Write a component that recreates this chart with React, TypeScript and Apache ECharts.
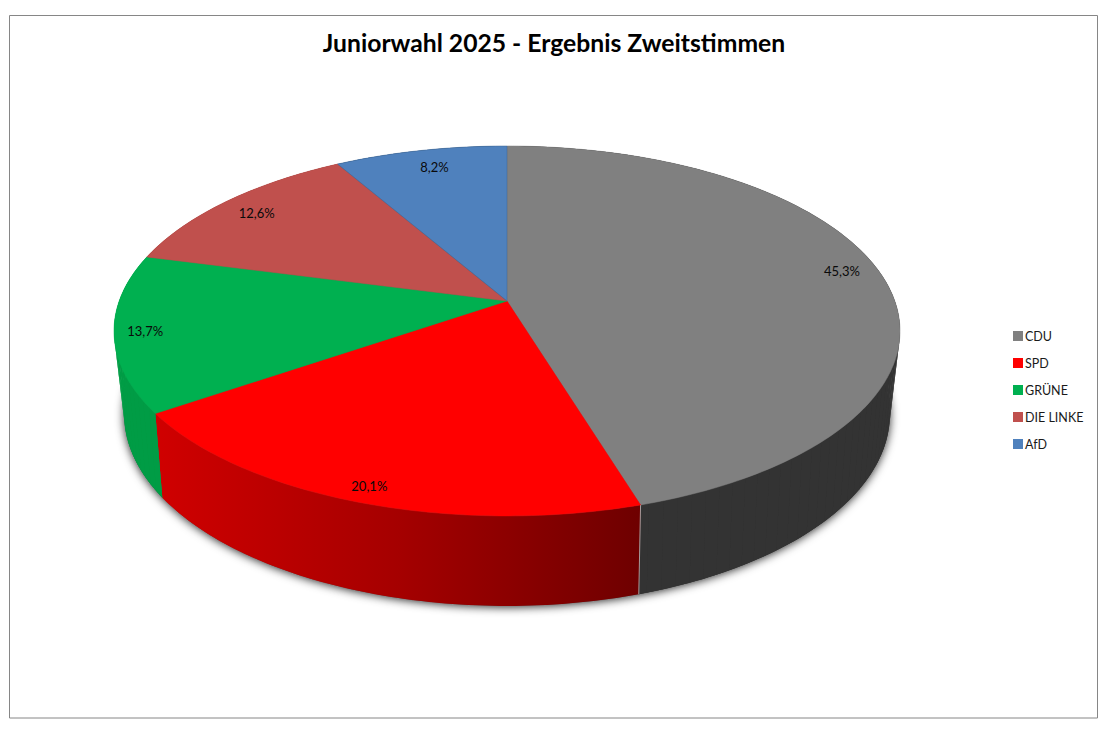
import React, { useEffect, useRef } from "react";
import * as echarts from "echarts";

const titleText = "Juniorwahl 2025 - Ergebnis Zweitstimmen";
const parties = ["CDU", "SPD", "GRÜNE", "DIE LINKE", "AfD"];
const shares = [45.3, 20.1, 13.7, 12.6, 8.2];

const topColors = ["#808080", "#ff0000", "#00b050", "#c0504d", "#4f81bd"];
const FONT = "Lato, Carlito, sans-serif";
const labelRadius = [0.9, 0.93, 0.93, 0.88, 0.87];
const labelNudge = [[-3, -7], [1, 1], [3, 0], [-1, 1], [5, -1]];

const topFace = { cy: 301, a: 180.1, b: 387.8, k: 0.162 };
const bottomFace = { cy: 380.5, a: 186, b: 377, k: 0.175 };
const CX = 507;

type Face = typeof topFace;
function project(deg: number, r: number, f: Face): number[] {
  const t = (deg * Math.PI) / 180;
  const u = r * Math.sin(t);
  const v = -r * Math.cos(t);
  const w = 1 - f.k * v;
  return [CX + (f.b * u) / w, f.cy + (f.a * v) / w];
}
function arc(a0: number, a1: number, f: Face): number[][] {
  const n = Math.max(2, Math.ceil(Math.abs(a1 - a0)));
  const pts: number[][] = [];
  for (let i = 0; i <= n; i++) pts.push(project(a0 + ((a1 - a0) * i) / n, 1, f));
  return pts;
}

function sideFill(i: number): any {
  if (i === 1)
    return new echarts.graphic.LinearGradient(0, 0, 1, 0, [
      { offset: 0, color: "#d00000" },
      { offset: 0.5, color: "#a50000" },
      { offset: 1, color: "#6e0000" },
    ]);
  return ["#333333", "", "#009c45", "#8f3d3a", "#3c6490"][i];
}

export default function App() {
  const ref = useRef<HTMLDivElement>(null);
  useEffect(() => {
    document.body.style.margin = "0";
    const chart = echarts.init(ref.current!, null, { renderer: "svg" });
    const cum: number[] = [];
    let acc = 0;
    shares.forEach((s) => {
      cum.push(acc);
      acc += s;
    });
    const startDeg = (i: number) => (cum[i] / 100) * 360;
    const endDeg = (i: number) => (i === shares.length - 1 ? 360 : ((cum[i] + shares[i]) / 100) * 360);

    const shadowSeries = {
      type: "custom",
      name: "shadow",
      coordinateSystem: "none",
      silent: true,
      z: 1,
      data: [[100]],
      renderItem: () => ({
        type: "polygon",
        shape: { points: arc(0, 360, bottomFace) },
        style: {
          fill: "#555",
          shadowBlur: 10,
          shadowOffsetX: 0,
          shadowOffsetY: 1,
          shadowColor: "rgba(0,0,0,0.85)",
        },
      }),
    };

    const sideSeries = parties.map((p, i) => ({
      type: "custom",
      name: p + " Seite",
      coordinateSystem: "none",
      silent: true,
      z: 2,
      data: [[shares[i]]],
      renderItem: () => {
        const a0 = startDeg(i);
        const a1 = endDeg(i);
        const children: any[] = [
          {
            type: "polygon",
            shape: { points: [...arc(a0, a1, topFace), ...arc(a1, a0, bottomFace)] },
            style: { fill: sideFill(i) },
          },
        ];
        // Strips along the rim fill the silhouette where the two faces' outlines cross.
        if (i !== 1) {
          const step = 2;
          for (let d = a0; d < a1; d += step) {
            const e = Math.min(a1, d + step);
            children.push({
              type: "polygon",
              shape: {
                points: [project(d, 1, topFace), project(e, 1, topFace), project(e, 1, bottomFace), project(d, 1, bottomFace)],
              },
              style: { fill: sideFill(i) },
            });
          }
        }
        if (i === 0) {
          children.push({
            type: "line",
            shape: {
              x1: project(a1, 1, topFace)[0],
              y1: project(a1, 1, topFace)[1],
              x2: project(a1, 1, bottomFace)[0],
              y2: project(a1, 1, bottomFace)[1],
            },
            style: { stroke: "#a89a9a", lineWidth: 1 },
            z2: 5,
          });
        }
        return { type: "group", children };
      },
    }));

    const topSeries = parties.map((p, i) => ({
      type: "custom",
      name: p,
      coordinateSystem: "none",
      silent: true,
      z: 3,
      itemStyle: { color: topColors[i] },
      data: [[shares[i]]],
      renderItem: () => ({
        type: "polygon",
        shape: { points: [project(0, 0, topFace), ...arc(startDeg(i), endDeg(i), topFace)] },
        style: {
          fill: topColors[i],
          stroke: i === 4 ? "#3f6795" : topColors[i],
          lineWidth: 0.5,
        },
      }),
    }));

    const labelSeries = {
      type: "custom",
      name: "labels",
      coordinateSystem: "none",
      silent: true,
      z: 4,
      data: shares.map((s) => [s]),
      renderItem: (params: any, api: any) => {
        const i = params.dataIndex;
        const mid = ((cum[i] + shares[i] / 2) / 100) * 360;
        const [x, y] = project(mid, labelRadius[i], topFace);
        const text = api.value(0).toFixed(1).replace(".", ",") + "%";
        return {
          type: "text",
          x: x + labelNudge[i][0],
          y: y + labelNudge[i][1],
          style: {
            text,
            fill: "#0a0a0a",
            font: `13px ${FONT}`,
            align: "center",
            verticalAlign: "middle",
          },
        };
      },
    };

    chart.setOption({
      animation: false,
      backgroundColor: "#ffffff",
      title: {
        text: titleText,
        left: "center",
        top: 25,
        textStyle: { fontFamily: FONT, fontSize: 24.7, fontWeight: "bold", color: "#000" },
      },
      legend: {
        data: parties,
        orient: "vertical",
        left: 1013,
        top: 328,
        itemWidth: 10,
        itemHeight: 10,
        itemGap: 11,
        icon: "rect",
        selectedMode: false,
        padding: 0,
        textStyle: { fontFamily: FONT, fontSize: 12.5, color: "#1a1a1a", padding: [0, 0, 0, -3], lineHeight: 16 },
      },
      graphic: [
        {
          type: "rect",
          z: 0,
          silent: true,
          shape: { x: 9.5, y: 15.5, width: 1088, height: 702.5 },
          style: { fill: "none", stroke: "#868686", lineWidth: 1 },
        },
      ],
      series: [shadowSeries, ...sideSeries, ...topSeries, labelSeries],
    } as any);
    return () => chart.dispose();
  }, []);
  return <div ref={ref} style={{ width: 1108, height: 732 }} />;
}
